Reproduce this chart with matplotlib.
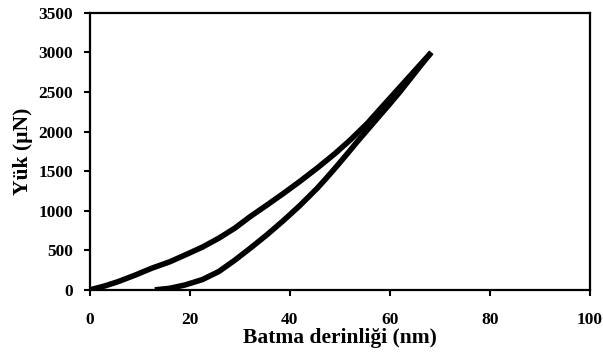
"""Nanoindentation load-depth curve (loading / unloading)."""

import matplotlib

matplotlib.use("Agg")
import matplotlib.pyplot as plt

# Loading branch: depth (nm) vs load (uN)
load_depth = [0, 3.0, 5.7, 9.0, 12.4, 16.0, 19.1, 22.5, 25.8, 29.0, 32.1, 35.5,
              38.8, 42.0, 45.5, 49.0, 52.2, 55.6, 58.0, 60.0, 62.0, 64.0, 66.0, 68.3]
load_force = [0, 50, 105, 185, 274, 355, 442, 540, 653, 780, 927, 1075,
              1222, 1370, 1540, 1720, 1900, 2110, 2280, 2420, 2560, 2700, 2840, 3000]

# Unloading branch
unload_depth = [68.3, 66.0, 64.0, 62.0, 60.0, 57.0, 53.6, 51.5, 49.5, 47.5, 45.5,
                42.0, 38.8, 35.5, 32.1, 29.0, 25.8, 22.5, 19.1, 16.0, 13.0]
unload_force = [3000, 2820, 2660, 2500, 2350, 2130, 1880, 1720, 1570, 1425, 1285,
                1065, 880, 700, 527, 375, 232, 130, 63, 20, 0]

x_ticks = [0, 20, 40, 60, 80, 100]
y_ticks = [0, 500, 1000, 1500, 2000, 2500, 3000, 3500]

plt.rcParams["font.family"] = ["Liberation Serif", "DejaVu Serif"]
plt.rcParams["font.weight"] = "bold"

fig = plt.figure(figsize=(6.03, 3.57), dpi=100)
ax = fig.add_axes([0.149, 0.188, 0.829, 0.776])

ax.plot(load_depth, load_force, color="black", linewidth=4, solid_capstyle="butt")
ax.plot(unload_depth, unload_force, color="black", linewidth=4, solid_capstyle="butt")

ax.set_xlim(0, 100)
ax.set_ylim(0, 3500)
ax.set_xticks(x_ticks)
ax.set_yticks(y_ticks)
ax.tick_params(direction="out", length=4, width=1.5, labelsize=12.5)
ax.tick_params(axis="x", pad=12)
ax.tick_params(axis="y", pad=8)
for lbl in ax.get_xticklabels() + ax.get_yticklabels():
    lbl.set_fontweight("bold")
for sp in ax.spines.values():
    sp.set_linewidth(1.6)

ax.set_xlabel("Batma derinliği (nm)", fontsize=15.5, fontweight="bold", labelpad=0)
ax.set_ylabel("Yük (µN)", fontsize=15.5, fontweight="bold", labelpad=4)

fig.savefig("out.png", dpi=100)
